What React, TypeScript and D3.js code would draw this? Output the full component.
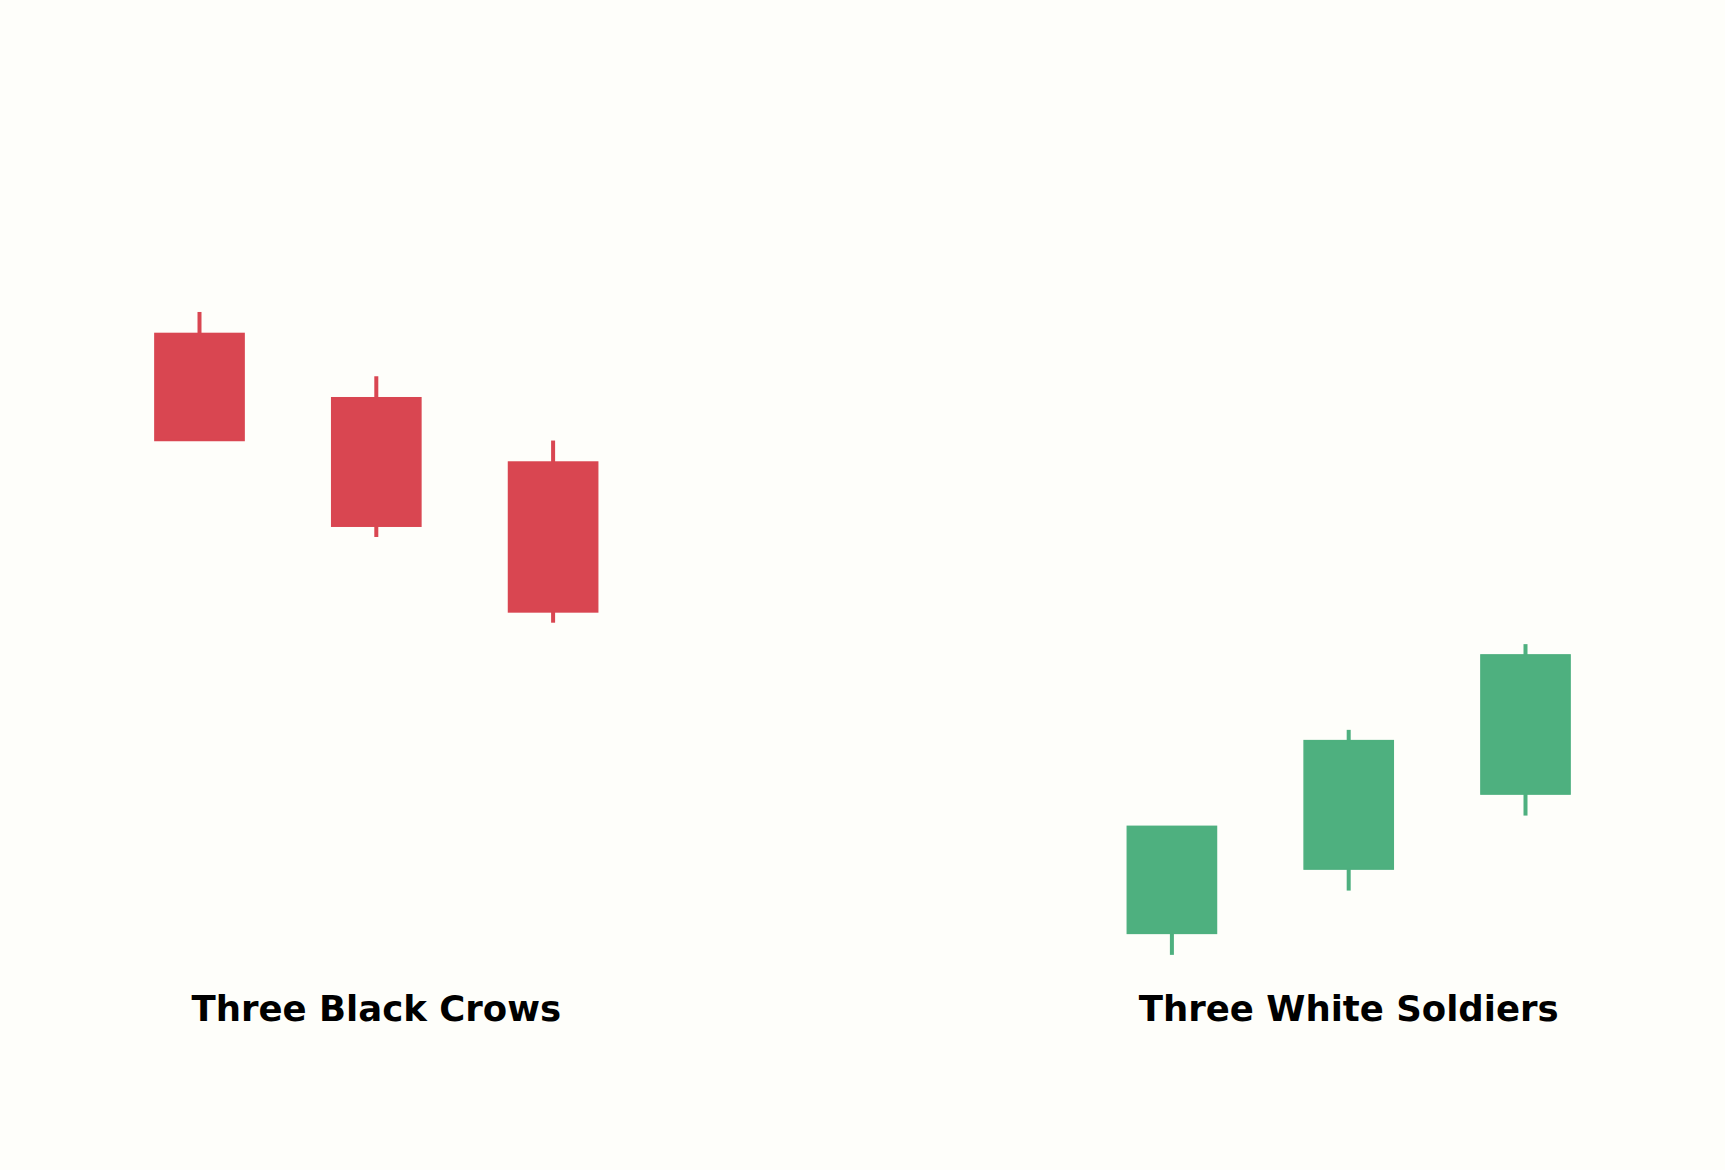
import React from "react";
import * as d3 from "d3";

const W = 1725;
const H = 1170;

const patterns = ["Three Black Crows", "Three White Soldiers"];
const slots = [0, 1, 2, 5.5, 6.5, 7.5];
const opens = [30, 27, 24, 2, 5, 8.5];
const closes = [25, 21, 17, 7, 11, 15];
const highs = [31, 28, 25, 7, 11.5, 15.5];
const lows = [25, 20.5, 16.5, 1, 4, 7.5];
const labelSlots = [1, 6.5];

const RED = "#D94651";
const GREEN = "#4EB07F";
const BG = "#FEFEFA";

export default function App() {
  const x = d3.scaleLinear().domain([0, 7.5]).range([199.5, 1525.5]);
  const y = d3.scaleLinear().domain([0, 30]).range([976.3, 333.4]);
  const step = x(1) - x(0);
  const bodyW = step * 0.505;
  const wickW = 4;

  return (
    <svg
      width={W}
      height={H}
      style={{ position: "absolute", left: 0, top: 0, background: BG }}
    >
      <rect x={0} y={0} width={W} height={H} fill={BG} />
      {slots.map((s, i) => {
        const o = opens[i];
        const c = closes[i];
        const col = c >= o ? GREEN : RED;
        const cx = x(s);
        const top = y(Math.max(o, c));
        const bot = y(Math.min(o, c));
        return (
          <g key={i}>
            <rect
              x={cx - wickW / 2}
              y={y(highs[i])}
              width={wickW}
              height={y(lows[i]) - y(highs[i])}
              fill={col}
            />
            <rect
              x={cx - bodyW / 2}
              y={top}
              width={bodyW}
              height={bot - top}
              fill={col}
              stroke={col}
              strokeWidth={1.4}
            />
          </g>
        );
      })}
      {patterns.map((p, i) => (
        <text
          key={p}
          x={x(labelSlots[i])}
          y={1021}
          textAnchor="middle"
          fontFamily="DejaVu Sans"
          fontWeight="bold"
          fontSize={35.5}
          fill="#000"
        >
          {p}
        </text>
      ))}
    </svg>
  );
}
